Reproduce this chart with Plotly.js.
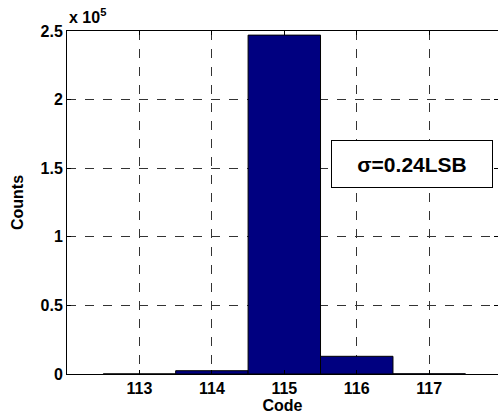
<!DOCTYPE html>
<html><head><meta charset="utf-8">
<script src="https://cdn.plot.ly/plotly-3.0.1.min.js"></script>
<style>html,body{margin:0;padding:0;background:#fff;}#chart{width:498px;height:417px;}</style>
</head><body><div id="chart"></div>
<script>
const codes = [113, 114, 115, 116, 117];
const counts = [60, 2400, 247000, 12900, 120];
const xTicks = [113, 114, 115, 116, 117];
const yTickVals = [0, 50000, 100000, 150000, 200000, 250000];
const yTickText = ['0', '0.5', '1', '1.5', '2', '2.5'];
const boxText = 'σ=0.24LSB';

const F = 'Liberation Sans, Arial, sans-serif';
const trace = {
  type: 'bar', x: codes, y: counts, width: 1,
  marker: {color: '#000080', line: {color: '#000000', width: 1}},
  hoverinfo: 'none'
};
const layout = {
  width: 498, height: 417,
  margin: {l: 67, r: 0, t: 31, b: 43, pad: 0},
  paper_bgcolor: '#fff', plot_bgcolor: '#fff',
  showlegend: false, bargap: 0,
  font: {family: F, size: 16, color: '#000'},
  xaxis: {
    range: [112, 117.95], tickvals: xTicks, ticktext: xTicks.map(v => '<b>' + v + '</b>'),
    showline: true, linecolor: '#000', linewidth: 1, mirror: 'allticks',
    ticks: 'inside', ticklen: 4, tickcolor: '#000',
    showgrid: true, gridcolor: '#333', griddash: 'dash', gridwidth: 1,
    zeroline: false,
    tickfont: {family: F, size: 16, color: '#000'},
    title: {text: '<b>Code</b>', font: {family: F, size: 16, color: '#000'}, standoff: 3}
  },
  yaxis: {
    range: [0, 250000], tickvals: yTickVals, ticktext: yTickText.map(t => '<b>' + t + '</b>'),
    showline: true, linecolor: '#000', linewidth: 1, mirror: 'allticks',
    ticks: 'inside', ticklen: 4, tickcolor: '#000',
    showgrid: true, gridcolor: '#333', griddash: 'dash', gridwidth: 1,
    zeroline: false,
    tickfont: {family: F, size: 16, color: '#000'},
    title: {text: '<b>Counts</b>', font: {family: F, size: 16, color: '#000'}, standoff: 12}
  },
  annotations: [
    {xref: 'paper', yref: 'paper', x: 0, y: 1, xanchor: 'left', yanchor: 'bottom', yshift: 3,
     text: '<b>x 10<sup>5</sup></b>', showarrow: false, font: {family: F, size: 16, color: '#000'}},
    {xref: 'x', yref: 'y', x: 116.76, y: 153000, xanchor: 'center', yanchor: 'middle',
     text: '<b>' + boxText + '</b>', showarrow: false, width: 160, height: 46,
     font: {family: F, size: 21, color: '#000'},
     bgcolor: '#fff', bordercolor: '#000', borderwidth: 1, borderpad: 0}
  ]
};
Plotly.newPlot('chart', [trace], layout, {displayModeBar: false, staticPlot: true});
</script></body></html>
